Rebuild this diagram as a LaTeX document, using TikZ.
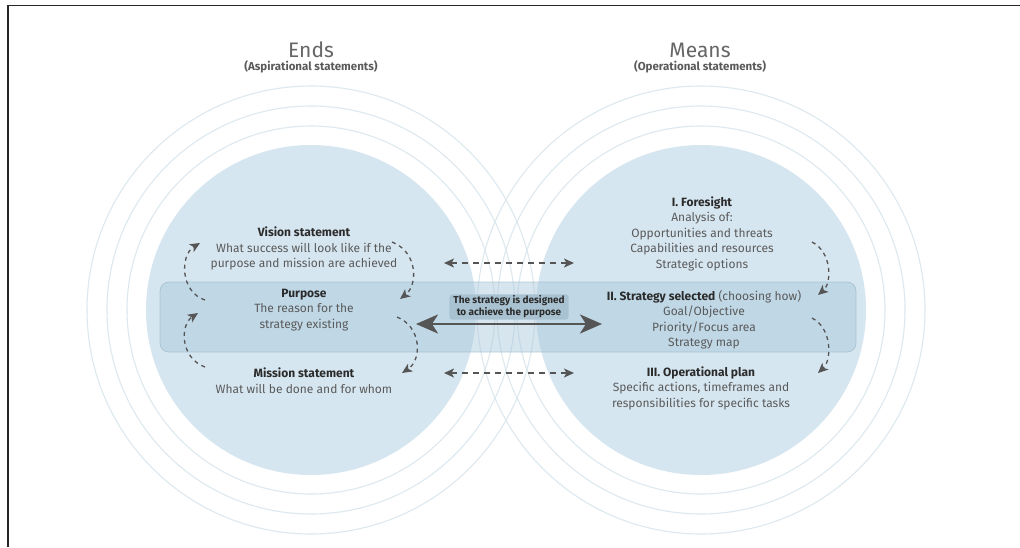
\documentclass[tikz,border=0pt]{standalone}
\usepackage{fontspec}
\setmainfont{Fira Sans}
\usetikzlibrary{arrows.meta}
\definecolor{diskblue}{HTML}{D6E6F0}
\definecolor{ringblue}{HTML}{DDE8EF}
\definecolor{bandblue}{HTML}{A7C6DA}
\definecolor{bandedge}{HTML}{9DBBCE}
\definecolor{txtgray}{HTML}{5A5A5A}
\definecolor{headgray}{HTML}{2B2B2B}
\definecolor{arrgray}{HTML}{555555}
\definecolor{labelbox}{HTML}{A9C2D1}
\definecolor{titlegray}{HTML}{666666}
\newcommand{\hdtxt}[1]{{\color{headgray}\bfseries #1}}
\begin{document}
\begin{tikzpicture}[x=1pt,y=-1pt,
  ring/.style={draw=ringblue, line width=1.1pt},
  disk/.style={fill=diskblue},
  txt/.style={text=txtgray, font=\fontsize{12}{15.5}\selectfont, align=center, inner sep=0pt},
  title/.style={text=titlegray, font=\fontsize{21}{24}\selectfont, inner sep=0pt},
  subtitle/.style={text=txtgray, font=\bfseries\fontsize{11.5}{13}\selectfont, inner sep=0pt},
  cyc/.style={draw=arrgray, line width=1.3pt, dash pattern=on 4pt off 4pt, -{Stealth[length=10pt,width=9pt,inset=2.5pt]}},
  link/.style={draw=arrgray, line width=1.3pt, dash pattern=on 6pt off 5pt, {Stealth[length=10pt,width=9pt,inset=2.5pt]}-{Stealth[length=10pt,width=9pt,inset=2.5pt]}},
  bigarrow/.style={draw=arrgray, line width=2.8pt, {Stealth[length=22pt,width=19pt,inset=6pt]}-{Stealth[length=22pt,width=19pt,inset=6pt]}},
  labelnode/.style={fill=labelbox, rounded corners=3pt, text=headgray, font=\bfseries\fontsize{10}{12}\selectfont, align=center, inner xsep=4pt, inner ysep=1.5pt}
]
\useasboundingbox (0,0) rectangle (1020,547);
\fill[white] (0,0) rectangle (1020,547);
% disks
\fill[disk] (311,310) circle[radius=165pt];
\fill[disk] (701,310) circle[radius=165pt];
% rings
\foreach \r in {184,204,224}{
  \draw[ring] (311,310) circle[radius=\r pt];
  \draw[ring] (701,310) circle[radius=\r pt];
}
% band
\fill[bandblue, fill opacity=0.45, rounded corners=9pt] (160,282) rectangle (856,352);
\draw[bandedge, draw opacity=0.7, line width=0.8pt, rounded corners=9pt] (160,282) rectangle (856,352);
% frame
\draw[line width=1.6pt, black!85] (8,547) -- (8,5.5) -- (1020,5.5);
% titles
\node[title] (ends) at (311,50) {Ends};
\node[subtitle] (endsub) at (311,67) {(Aspirational statements)};
\node[title] (means) at (700,50) {Means};
\node[subtitle] (meanssub) at (700,67) {(Operational statements)};
% left texts
\node[txt] (vision) at (304,248.5) {\hdtxt{Vision statement}\\What success will look like if the\\purpose and mission are achieved};
\node[txt] (purpose) at (304,310) {\hdtxt{Purpose}\\The reason for the\\strategy existing};
\node[txt] (mission) at (304,380.5) {\hdtxt{Mission statement}\\What will be done and for whom};
% right texts
\node[txt] (foresight) at (702,233.5) {\hdtxt{I. Foresight}\\Analysis of:\\Opportunities and threats\\Capabilities and resources\\Strategic options};
\node[txt] (strategy) at (704,319.5) {\hdtxt{II. Strategy selected} (choosing how)\\Goal/Objective\\Priority/Focus area\\Strategy map};
\node[txt] (operational) at (701,388) {\hdtxt{III. Operational plan}\\Specific actions, timeframes and\\responsibilities for specific tasks};
% middle label
\node[labelnode] (label) at (509,307) {The strategy is designed\\to achieve the purpose};
% arrow end points
\coordinate (bigL) at (416,324);
\coordinate (bigR) at (602,324);
\coordinate (upL) at (444,263);
\coordinate (upR) at (574,263);
\coordinate (loL) at (444,373);
\coordinate (loR) at (574,373);
\draw[bigarrow] (bigL) -- (bigR);
\draw[link] (upL) -- (upR);
\draw[link] (loL) -- (loR);
% cycle arrows
\coordinate (a1s) at (205,300); \coordinate (a1e) at (200,243);
\coordinate (a2s) at (392,242); \coordinate (a2e) at (400,299);
\coordinate (a3s) at (205,367); \coordinate (a3e) at (198,313);
\coordinate (a4s) at (397,317); \coordinate (a4e) at (402,373);
\coordinate (a5s) at (812,242); \coordinate (a5e) at (818,295);
\coordinate (a6s) at (812,318); \coordinate (a6e) at (818,373);
\draw[cyc] (a1s) .. controls (180,292) and (180,255) .. (a1e);
\draw[cyc] (a2s) .. controls (418,252) and (418,285) .. (a2e);
\draw[cyc] (a3s) .. controls (180,358) and (180,325) .. (a3e);
\draw[cyc] (a4s) .. controls (422,327) and (422,360) .. (a4e);
\draw[cyc] (a5s) .. controls (832,252) and (832,283) .. (a5e);
\draw[cyc] (a6s) .. controls (832,328) and (832,360) .. (a6e);
\end{tikzpicture}
\end{document}
